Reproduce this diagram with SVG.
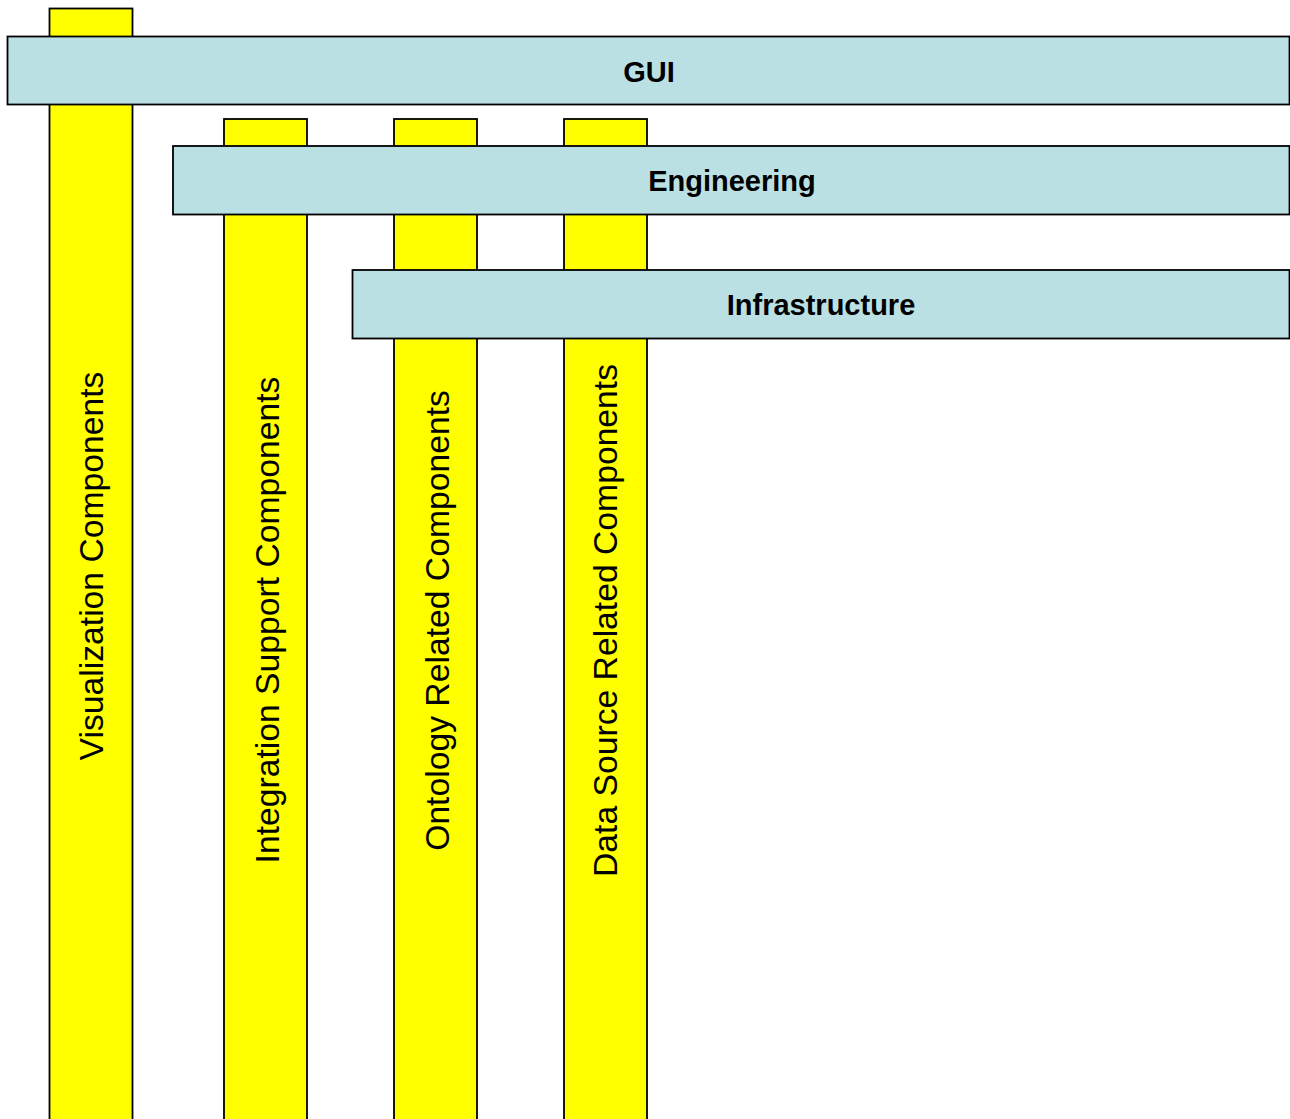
<svg xmlns="http://www.w3.org/2000/svg" width="1290" height="1119" viewBox="0 0 1290 1119">
<style>
.col{fill:#FFFF00;stroke:#000;stroke-width:1.8}
.bar{fill:#BBE0E3;stroke:#000;stroke-width:1.8}
.vt{font-family:"Liberation Sans",Arial,sans-serif;font-size:33.7px;fill:#000;text-anchor:middle}
.bt{font-family:"Liberation Sans",Arial,sans-serif;font-size:29px;font-weight:bold;fill:#000;text-anchor:middle}
</style>
<rect width="1290" height="1119" fill="#fff"/>
<g id="visualization">
<rect class="col" x="49.5" y="8.5" width="83" height="1120"/>
<text class="vt" transform="translate(103,566) rotate(-90)">Visualization Components</text>
</g>
<g id="integration">
<rect class="col" x="224" y="119" width="83" height="1010"/>
<text class="vt" transform="translate(279,620) rotate(-90)">Integration Support Components</text>
</g>
<g id="ontology">
<rect class="col" x="394" y="119" width="83" height="1010"/>
<text class="vt" transform="translate(449,620.5) rotate(-90)">Ontology Related Components</text>
</g>
<g id="datasource">
<rect class="col" x="564" y="119" width="83" height="1010"/>
<text class="vt" transform="translate(617,620.5) rotate(-90)">Data Source Related Components</text>
</g>
<g id="gui">
<rect class="bar" x="7.5" y="36.5" width="1282" height="68"/>
<text class="bt" x="649" y="82">GUI</text>
</g>
<g id="engineering">
<rect class="bar" x="173" y="146" width="1116.5" height="68.5"/>
<text class="bt" x="732" y="191">Engineering</text>
</g>
<g id="infrastructure">
<rect class="bar" x="352.5" y="270" width="937" height="68.5"/>
<text class="bt" x="821" y="315">Infrastructure</text>
</g>
<g id="connectors"/>
</svg>
